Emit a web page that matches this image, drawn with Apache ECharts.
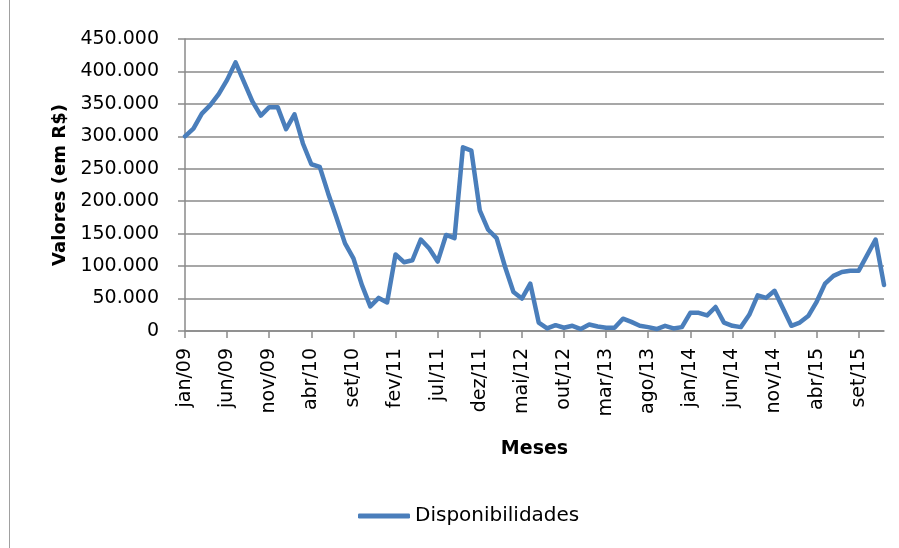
<!DOCTYPE html>
<html>
<head>
<meta charset="utf-8">
<script src="https://cdn.jsdelivr.net/npm/echarts@6/dist/echarts.min.js"></script>
<style>
  html, body { margin: 0; padding: 0; background: #fff; }
  #chart { width: 899px; height: 548px; }
</style>
</head>
<body>
<div id="chart"></div>
<script>
// meses em português, de jan/09 a dez/15
const monthNames = ['jan', 'fev', 'mar', 'abr', 'mai', 'jun', 'jul', 'ago', 'set', 'out', 'nov', 'dez'];
const years = ['09', '10', '11', '12', '13', '14', '15'];
const months = [];
years.forEach(y => monthNames.forEach(m => months.push(m + '/' + y)));

// Disponibilidades (R$)
const disponibilidades = [
    300000, 312000, 335000, 348000, 365000, 387000, 414000, 384000, 354000, 332000, 345000, 345000,
    311000, 334000, 289000, 257000, 253000, 212000, 174000, 135000, 112000, 71000, 38000, 51000,
    44000, 118000, 106000, 109000, 141000, 127000, 107000, 148000, 143000, 283000, 278000, 186000,
    156000, 143000, 99000, 60000, 50000, 73000, 13000, 4000, 9000, 5000, 8000, 3000,
    10000, 7000, 5000, 5000, 19000, 14000, 8000, 6000, 3000, 8000, 4000, 6000,
    28000, 28000, 24000, 37000, 13000, 8000, 6000, 25000, 55000, 51000, 62000, 35000,
    8000, 13000, 23000, 45000, 73000, 85000, 91000, 93000, 93000, 117000, 141000, 71000
];

const gridColor = '#8a8a8a';
const fontFamily = '"DejaVu Sans", sans-serif';

const fmtThousands = (v) => String(v).replace(/\B(?=(\d{3})+(?!\d))/g, '.');

const chart = echarts.init(document.getElementById('chart'));
chart.setOption({
    backgroundColor: '#fff',
    animation: false,
    textStyle: { fontFamily: fontFamily, color: '#000' },
    grid: { left: 185, right: 15, top: 39, bottom: 217, containLabel: false },
    legend: {
        left: 353, top: 501,
        icon: 'roundRect', itemWidth: 52, itemHeight: 5,
        textStyle: { fontSize: 20, color: '#000', fontFamily: fontFamily },
        data: ['Disponibilidades']
    },
    xAxis: {
        type: 'category',
        data: months,
        boundaryGap: false,
        name: 'Meses',
        nameLocation: 'middle',
        nameGap: 109,
        nameTextStyle: { fontSize: 19, fontWeight: 'bold', color: '#000' },
        axisLine: { lineStyle: { color: gridColor, width: 1.5 } },
        axisTick: { interval: 4, length: 7, lineStyle: { color: gridColor, width: 1.5 } },
        axisLabel: { interval: 4, rotate: 90, margin: 17, fontSize: 19, color: '#000' },
        splitLine: { show: false }
    },
    yAxis: {
        type: 'value',
        min: 0, max: 450000, interval: 50000,
        name: 'Valores (em R$)',
        nameLocation: 'middle',
        nameGap: 116,
        nameRotate: 90,
        nameTextStyle: { fontSize: 18, fontWeight: 'bold', color: '#000' },
        axisLine: { show: true, lineStyle: { color: gridColor, width: 1.5 } },
        axisTick: { show: true, length: 7, lineStyle: { color: gridColor, width: 1.5 } },
        axisLabel: { margin: 26, fontSize: 19, color: '#000', formatter: fmtThousands },
        splitLine: { lineStyle: { color: gridColor, width: 1.5 } }
    },
    graphic: [
        { type: 'line', shape: { x1: 9.5, y1: 0, x2: 9.5, y2: 548 }, style: { stroke: '#a0a0a0', lineWidth: 1 } }
    ],
    series: [{
        name: 'Disponibilidades',
        type: 'line',
        data: disponibilidades,
        showSymbol: false,
        symbol: 'none',
        itemStyle: { color: '#4a7ebb' },
        lineStyle: { color: '#4a7ebb', width: 4.5, join: 'round', cap: 'round' }
    }]
});
window.addEventListener('resize', () => chart.resize());
</script>
</body>
</html>
